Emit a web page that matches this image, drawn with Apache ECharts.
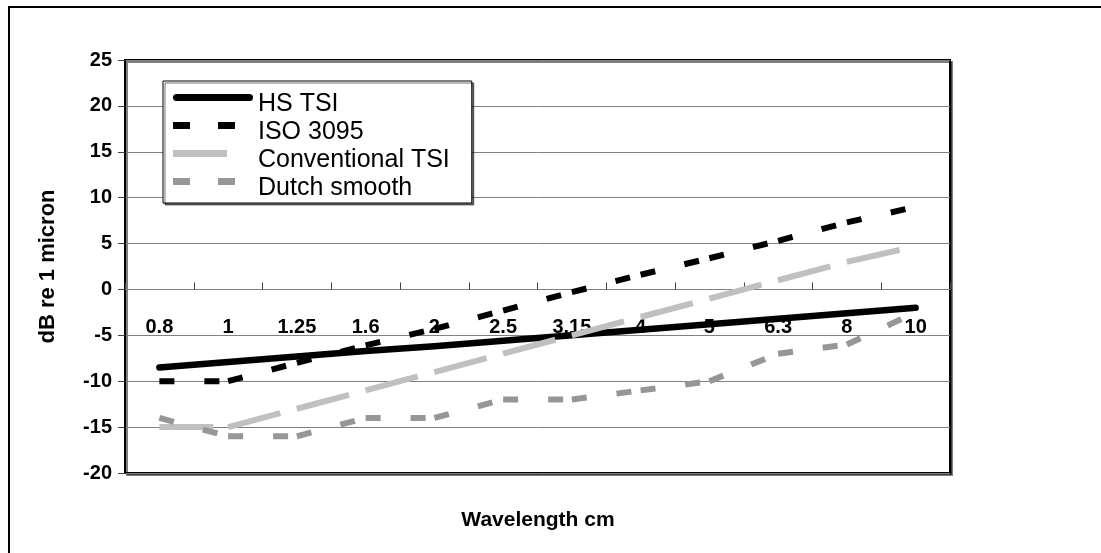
<!DOCTYPE html>
<html>
<head>
<meta charset="utf-8">
<script src="https://cdn.jsdelivr.net/npm/echarts@6/dist/echarts.min.js"></script>
<style>
  html, body { margin: 0; padding: 0; background: #ffffff; }
  #chart { width: 1101px; height: 553px; }
</style>
</head>
<body>
<div id="chart"></div>
<script>
// Wavelength bands (cm) along the category axis
const wavelengths = ['0.8', '1', '1.25', '1.6', '2', '2.5', '3.15', '4', '5', '6.3', '8', '10'];

// Roughness levels, dB re 1 micron
const hsTsi           = [-8.5, -7.9, -7.3, -6.7, -6.2, -5.6, -5.0, -4.4, -3.8, -3.2, -2.6, -2.0];
const iso3095         = [-10, -10, -8, -6.1, -4.3, -2.3, -0.3, 1.6, 3.4, 5.3, 7.3, 9.0];
const conventionalTsi = [-15, -15, -13, -11, -9, -7, -5, -3, -1, 1, 3, 4.7];
const dutchSmooth     = [-14, -16, -16, -14, -14, -12, -12, -11, -10, -7, -6, -2.5];

const yTicks = { min: -20, max: 25, step: 5 };

const GRID = { left: 125, right: 151, top: 60, bottom: 80 };
const CHART_H = 553;

const chart = echarts.init(document.getElementById('chart'), null, { renderer: 'canvas' });

// The category axis sits on the 0 dB line: shift it up from the grid bottom.
const plotH = CHART_H - GRID.top - GRID.bottom;
const zeroOffset = -plotH * (0 - yTicks.min) / (yTicks.max - yTicks.min);

// Dashed series are drawn segment by segment so each dash pattern
// restarts at every data point.
function dashedSegments(name, values, color, dash) {
  return {
    name: name,
    type: 'custom',
    coordinateSystem: 'cartesian2d',
    clip: true,
    itemStyle: { color: color },
    encode: { x: 0, y: 1 },
    data: values.map((v, i) => [i, v]),
    renderItem: function (params, api) {
      const i = params.dataIndex;
      if (i === 0) return null;
      const p0 = api.coord([i - 1, values[i - 1]]);
      const p1 = api.coord([i, values[i]]);
      return {
        type: 'line',
        shape: { x1: p0[0], y1: p0[1], x2: p1[0], y2: p1[1] },
        style: { stroke: color, lineWidth: 6, lineDash: dash, lineCap: 'butt', fill: null }
      };
    }
  };
}

const iconTail = ' M80,21 L80,21';
const legendIcons = {
  hs: 'path://M3.5,0 H76.5 A3.5,3.5 0 0 1 76.5,7 H3.5 A3.5,3.5 0 0 1 3.5,0 Z M0,21 L0,21' + iconTail,
  dash: 'path://M0,0 h17 v7 h-17 Z M45,0 h17 v7 h-17 Z M0,21 L0,21' + iconTail,
  longDash: 'path://M0,0 h54 v7 h-54 Z M0,21 L0,21' + iconTail
};

const option = {
  backgroundColor: '#ffffff',
  animation: false,
  textStyle: { fontFamily: 'Liberation Sans, Arial, sans-serif' },
  graphic: [
    {
      type: 'rect',
      shape: { x: 9, y: 7, width: 1200, height: 600 },
      style: { fill: null, stroke: '#000000', lineWidth: 2 },
      silent: true,
      z: 100
    },
    {
      type: 'text',
      x: 538,
      y: 520,
      style: {
        text: 'Wavelength cm',
        fontFamily: 'Liberation Sans, Arial, sans-serif',
        fontSize: 21,
        fontWeight: 'bold',
        fill: '#000000',
        align: 'center',
        verticalAlign: 'middle'
      },
      silent: true
    }
  ],
  legend: {
    orient: 'vertical',
    left: 163,
    top: 81,
    padding: [11, 22, 2, 10],
    itemWidth: 80,
    itemHeight: 21,
    itemGap: 3,
    selectedMode: false,
    backgroundColor: '#ffffff',
    borderColor: '#000000',
    borderWidth: 1,
    shadowColor: 'rgba(0,0,0,0.55)',
    shadowOffsetX: 2,
    shadowOffsetY: 2,
    shadowBlur: 0,
    itemStyle: { borderWidth: 0 },
    textStyle: {
      fontFamily: 'Liberation Sans, Arial, sans-serif',
      fontSize: 25,
      color: '#000000'
    },
    data: [
      { name: 'HS TSI', icon: legendIcons.hs },
      { name: 'ISO 3095', icon: legendIcons.dash },
      { name: 'Conventional TSI', icon: legendIcons.longDash },
      { name: 'Dutch smooth', icon: legendIcons.dash }
    ]
  },
  grid: {
    left: GRID.left,
    right: GRID.right,
    top: GRID.top,
    bottom: GRID.bottom,
    show: true,
    backgroundColor: '#ffffff',
    borderColor: '#000000',
    borderWidth: 2,
    shadowColor: 'rgba(0,0,0,0.5)',
    shadowOffsetX: 2,
    shadowOffsetY: 2,
    shadowBlur: 0
  },
  xAxis: {
    type: 'category',
    data: wavelengths,
    boundaryGap: true,
    position: 'bottom',
    offset: zeroOffset,
    axisLine: { onZero: false, lineStyle: { color: '#808080', width: 1 } },
    axisTick: { show: true, inside: true, length: 7, alignWithLabel: false, lineStyle: { color: '#404040', width: 1 } },
    axisLabel: {
      interval: 0,
      margin: 28,
      fontSize: 20,
      fontWeight: 'bold',
      color: '#000000',
      fontFamily: 'Liberation Sans, Arial, sans-serif'
    },
    splitLine: { show: false }
  },
  yAxis: {
    type: 'value',
    min: yTicks.min,
    max: yTicks.max,
    interval: yTicks.step,
    name: 'dB re 1 micron',
    nameLocation: 'middle',
    nameRotate: 90,
    nameGap: 66,
    nameTextStyle: {
      fontSize: 22,
      fontWeight: 'bold',
      color: '#000000',
      fontFamily: 'Liberation Sans, Arial, sans-serif'
    },
    axisLine: { show: true, lineStyle: { color: '#000000', width: 2 } },
    axisTick: { show: true, inside: false, length: 7, lineStyle: { color: '#404040', width: 1 } },
    axisLabel: {
      margin: 13,
      fontSize: 20,
      fontWeight: 'bold',
      color: '#000000',
      padding: [8, 0, 0, 0],
      fontFamily: 'Liberation Sans, Arial, sans-serif'
    },
    splitLine: { show: true, lineStyle: { color: '#808080', width: 1 } }
  },
  series: [
    {
      name: 'HS TSI',
      type: 'line',
      data: hsTsi,
      symbol: 'none',
      showSymbol: false,
      itemStyle: { color: '#000000' },
      lineStyle: { color: '#000000', width: 6.5, cap: 'round', join: 'round' },
      z: 2
    },
    Object.assign(dashedSegments('ISO 3095', iso3095, '#000000', [15, 30]), { z: 3 }),
    Object.assign(dashedSegments('Conventional TSI', conventionalTsi, '#c0c0c0', [54, 17]), { z: 4 }),
    Object.assign(dashedSegments('Dutch smooth', dutchSmooth, '#969696', [15, 30]), { z: 5 })
  ]
};

chart.setOption(option);
</script>
</body>
</html>
